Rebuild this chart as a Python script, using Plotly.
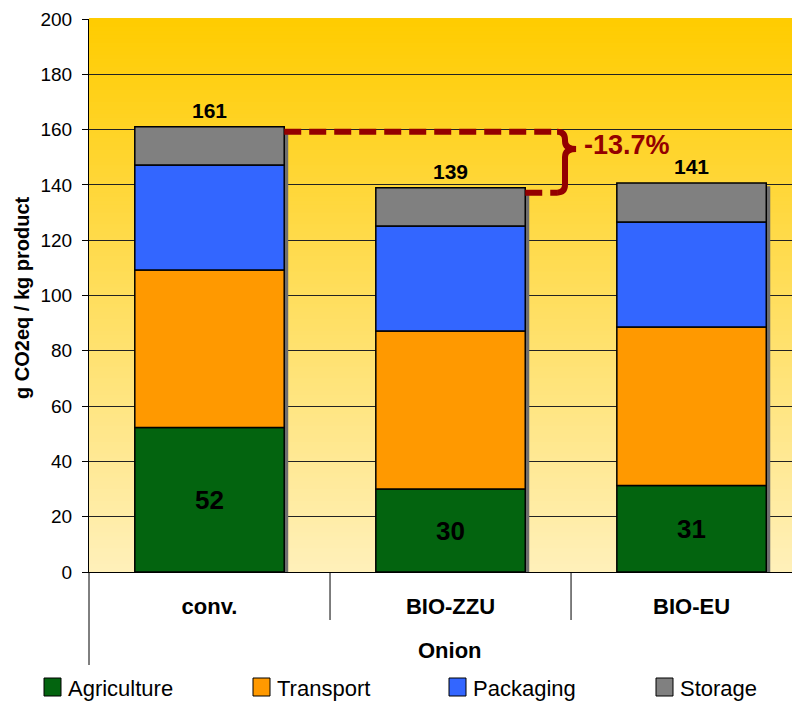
import plotly.graph_objects as go

# ---------------- data ----------------
categories = ["conv.", "BIO-ZZU", "BIO-EU"]
agriculture = [52.3, 30.0, 31.3]
transport = [56.9, 57.2, 57.3]
packaging = [38.0, 37.9, 38.0]
storage = [13.8, 13.9, 14.1]
series_names = ["Agriculture", "Transport", "Packaging", "Storage"]
y_ticks = [0, 20, 40, 60, 80, 100, 120, 140, 160, 180, 200]
y_title = "g CO2eq / kg product"
x_title = "Onion"

# ---------------- style ----------------
colors = ["#03640F", "#FF9900", "#3366FF", "#808080"]
FONT = "Arial, Liberation Sans, sans-serif"
RED = "#940000"
OFF = 8                      # page body margin of the browser
W, H = 800 - OFF, 702 - OFF
PL, PT, PB = 89, 19, 572     # plot edges in window pixels
ML, MR, MT, MB = PL - OFF, 0, PT - OFF, 702 - PB
XMIN, XMAX = -0.5, 2.45
BAR_W = 0.62

plot_w = W - ML - MR
plot_h = H - MT - MB


def px2paper_x(px):
    return (px - PL) / plot_w


def py2paper_y(py):
    return (PB - py) / plot_h


def data2paper_x(x):
    return (x - XMIN) / (XMAX - XMIN)


series = [agriculture, transport, packaging, storage]
n = len(categories)
xpos = list(range(n))
totals = [sum(s[i] for s in series) for i in range(n)]

fig = go.Figure()

# shadow behind each stack
shadow_dx = 4 / (plot_w / (XMAX - XMIN))
fig.add_trace(go.Bar(
    x=xpos, y=[t - 1.2 for t in totals], base=[0] * n,
    width=BAR_W, offset=-BAR_W / 2 + shadow_dx,
    marker=dict(color="#6e6e6e", line=dict(width=0)),
    showlegend=False, hoverinfo="skip"))

cum = [0.0] * n
for name, vals, col in zip(series_names, series, colors):
    is_agri = name == "Agriculture"
    fig.add_trace(go.Bar(
        x=xpos, y=vals, base=list(cum), name=name,
        width=BAR_W, offset=-BAR_W / 2,
        marker=dict(color=col, line=dict(color="black", width=1.5)),
        text=[f"{v:.0f}" for v in vals] if is_agri else None,
        textposition="inside" if is_agri else "none",
        insidetextanchor="middle",
        textfont=dict(family=FONT, size=26, color="black", weight="bold"),
        showlegend=False))
    cum = [c + v for c, v in zip(cum, vals)]

shapes = []
# gradient background
N = 140
top_c = (255, 204, 0)
bot_c = (255, 240, 186)
for k in range(N):
    f = (k + 0.5) / N
    c = tuple(round(bot_c[j] + (top_c[j] - bot_c[j]) * f) for j in range(3))
    shapes.append(dict(type="rect", xref="paper", yref="paper",
                       x0=0, x1=1, y0=k / N, y1=(k + 1) / N + 0.002,
                       fillcolor=f"rgb{c}", line=dict(width=0), layer="below"))

# category dividers & axis extension
for b in [0.5, 1.5]:
    shapes.append(dict(type="line", xref="paper", yref="paper",
                       x0=data2paper_x(b), x1=data2paper_x(b),
                       y0=0, y1=py2paper_y(620),
                       line=dict(color="black", width=1)))
shapes.append(dict(type="line", xref="paper", yref="paper",
                   x0=0, x1=0, y0=0, y1=py2paper_y(665),
                   line=dict(color="black", width=1)))

# difference marker
drop = 1.8
yt = totals[0] - drop
yb = totals[1] - drop
xs, xv, xt = 1.442, 1.475, 1.521
ry = 2.9
ytip = 153.0
shapes.append(dict(type="line", xref="x", yref="y", x0=BAR_W / 2, x1=xs, y0=yt, y1=yt,
                   line=dict(color=RED, width=6, dash="17px,8px")))
shapes.append(dict(type="line", xref="x", yref="y", x0=1 + BAR_W / 2, x1=xs, y0=yb, y1=yb,
                   line=dict(color=RED, width=6, dash="17px,8px")))
path = (f"M {xs},{yt} Q {xv},{yt} {xv},{yt - ry} L {xv},{ytip + ry} "
        f"Q {xv},{ytip} {xt},{ytip} Q {xv},{ytip} {xv},{ytip - ry} "
        f"L {xv},{yb + ry} Q {xv},{yb} {xs},{yb}")
shapes.append(dict(type="path", xref="x", yref="y", path=path,
                   line=dict(color=RED, width=6)))

annotations = []
for i, t in enumerate(totals):
    annotations.append(dict(x=i, y=t, xref="x", yref="y", text=f"{t:.0f}",
                            showarrow=False, yanchor="bottom", yshift=3,
                            font=dict(family=FONT, size=21, color="black", weight="bold")))
pct = (totals[1] - totals[0]) / totals[0] * 100
annotations.append(dict(x=1.546, y=154.4, xref="x", yref="y", text=f"{pct:.1f}%",
                        showarrow=False, xanchor="left", yanchor="middle",
                        font=dict(family=FONT, size=27, color=RED, weight="bold")))
annotations.append(dict(x=px2paper_x(22), y=py2paper_y(298), xref="paper", yref="paper",
                        text=y_title, textangle=-90, showarrow=False,
                        xanchor="center", yanchor="middle",
                        font=dict(family=FONT, size=20, color="black", weight="bold")))
annotations.append(dict(x=px2paper_x(450), y=py2paper_y(650), xref="paper", yref="paper",
                        text=x_title, showarrow=False, xanchor="center", yanchor="middle",
                        font=dict(family=FONT, size=22, color="black", weight="bold")))

# manual legend
leg_x = [44, 253, 449, 656]
for name, col, lx in zip(series_names, colors, leg_x):
    shapes.append(dict(type="rect", xref="paper", yref="paper",
                       x0=px2paper_x(lx), x1=px2paper_x(lx + 17),
                       y0=py2paper_y(696), y1=py2paper_y(678),
                       fillcolor=col, line=dict(color="black", width=1)))
    annotations.append(dict(x=px2paper_x(lx + 22), y=py2paper_y(688), xref="paper", yref="paper",
                            text=name, showarrow=False, xanchor="left", yanchor="middle",
                            font=dict(family=FONT, size=22, color="black")))

fig.update_layout(
    width=W, height=H, margin=dict(l=ML, r=MR, t=MT, b=MB),
    paper_bgcolor="white", plot_bgcolor="rgba(0,0,0,0)",
    barmode="overlay", showlegend=False,
    shapes=shapes, annotations=annotations,
    xaxis=dict(range=[XMIN, XMAX], tickvals=xpos, ticktext=categories,
               showgrid=False, zeroline=False, showline=True, linecolor="black", linewidth=1,
               ticks="outside", ticklen=15, tickcolor="rgba(0,0,0,0)",
               tickfont=dict(family=FONT, size=22, color="black", weight="bold")),
    yaxis=dict(range=[0, 200], tickvals=y_ticks, showgrid=True, gridcolor="#222222", gridwidth=1,
               zeroline=False, showline=True, linecolor="black", linewidth=1,
               ticks="outside", ticklen=6, tickcolor="black", ticklabelstandoff=6,
               tickfont=dict(family=FONT, size=19, color="black")),
)

fig.write_html("out.html")
